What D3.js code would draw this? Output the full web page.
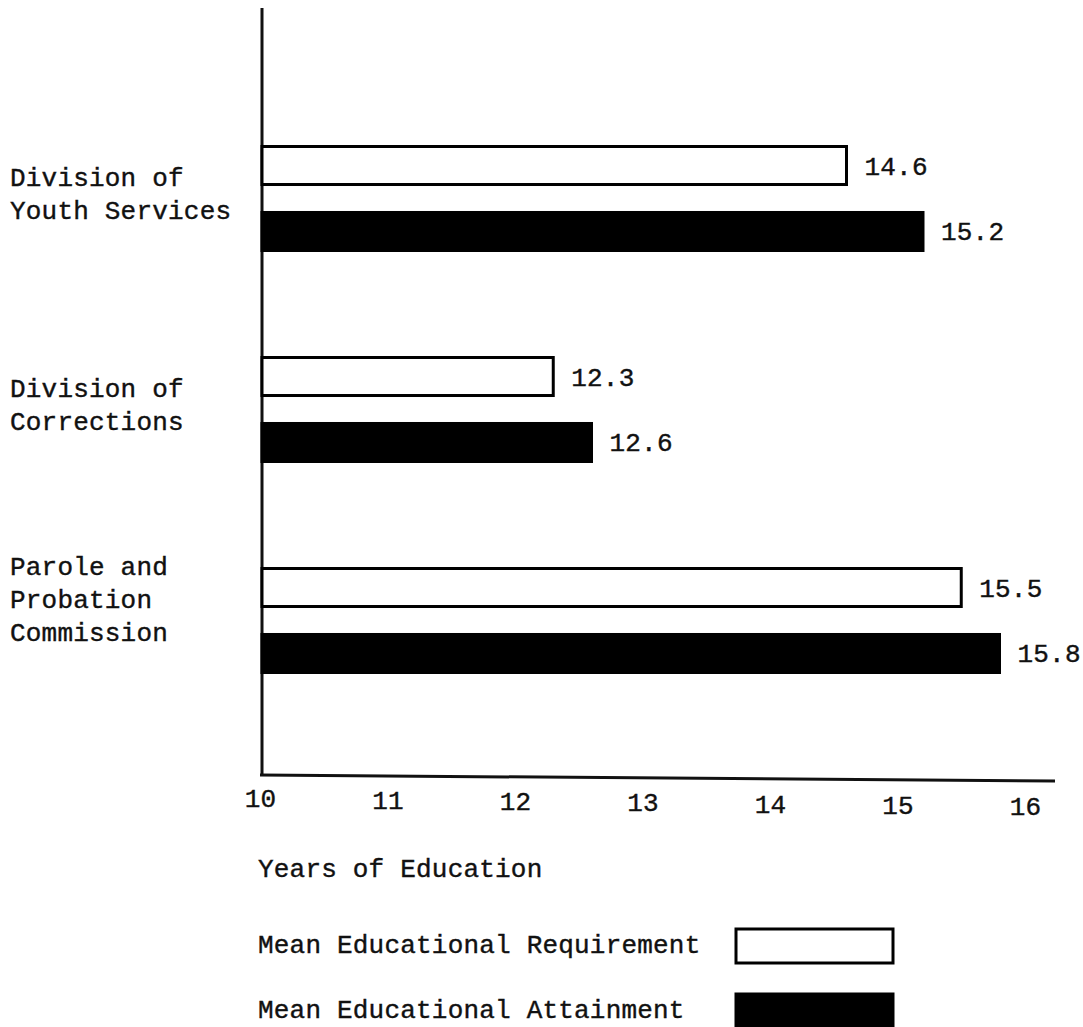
<!DOCTYPE html>
<html>
<head>
<meta charset="utf-8">
<script src="https://cdn.jsdelivr.net/npm/d3@7"></script>
<style>
  body { margin: 0; background: #fff; }
  text { font-family: "Liberation Mono", "DejaVu Sans Mono", monospace; fill: #111; stroke: #111; stroke-width: 0.4px; letter-spacing: 0.2px; }
</style>
</head>
<body>
<div id="chart"></div>
<script>
// data
var agencies = ["Division of Youth Services", "Division of Corrections", "Parole and Probation Commission"];
var agencyLines = [["Division of", "Youth Services"], ["Division of", "Corrections"], ["Parole and", "Probation", "Commission"]];
var seriesNames = ["Mean Educational Requirement", "Mean Educational Attainment"];
var requirement = [14.6, 12.3, 15.5];
var attainment = [15.2, 12.6, 15.8];
var xTicks = [10, 11, 12, 13, 14, 15, 16];

var width = 1083, height = 1027;
var fontSize = "26px";

var svg = d3.select("#chart")
  .append("svg")
  .attr("width", width)
  .attr("height", height);

var x = d3.scaleLinear()
  .domain([10, 16])
  .range([260, 1025]);

var y = d3.scaleBand()
  .domain(agencies)
  .range([93, 726]);

var ySub = d3.scaleBand()
  .domain(seriesNames)
  .range([0, 104])
  .paddingInner(0.424);

var rows = agencies.map(function (a, i) {
  return { agency: a, lines: agencyLines[i], values: [requirement[i], attainment[i]] };
});

// axes lines
svg.append("line")
  .attr("x1", 262).attr("x2", 262)
  .attr("y1", 8).attr("y2", 776)
  .attr("stroke", "#111").attr("stroke-width", 3);

svg.append("line")
  .attr("x1", 260).attr("x2", 1055)
  .attr("y1", 775).attr("y2", 781)
  .attr("stroke", "#111").attr("stroke-width", 3);

var xAxis = svg.append("g")
  .attr("transform", "translate(0,775)")
  .call(d3.axisBottom(x).tickValues(xTicks).tickSize(0).tickPadding(14).tickFormat(d3.format("d")));
xAxis.select(".domain").remove();
xAxis.selectAll("text")
  .attr("font-family", "Liberation Mono, monospace")
  .style("font-size", fontSize)
  .attr("fill", "#111")
  .attr("dy", function (d, i) { return (0.71 + i * 0.05) + "em"; });

// category labels
var groups = svg.selectAll(".agency")
  .data(rows)
  .enter()
  .append("g")
  .attr("class", "agency")
  .attr("transform", function (d) { return "translate(0," + (y(d.agency) + y.bandwidth() / 2) + ")"; });

groups.each(function (d) {
  var g = d3.select(this);
  var n = d.lines.length;
  d.lines.forEach(function (line, j) {
    g.append("text")
      .attr("x", 10)
      .attr("y", 20 - 33 * (n - 1 - j))
      .style("font-size", fontSize)
      .text(line);
  });
});

// bars
groups.selectAll("rect")
  .data(function (d) { return d.values.map(function (v, k) { return { name: seriesNames[k], value: v }; }); })
  .enter()
  .append("rect")
  .attr("x", x(10) + 2)
  .attr("y", function (d) { return ySub(d.name) - 52; })
  .attr("width", function (d) { return x(d.value) - x(10) - 2; })
  .attr("height", ySub.bandwidth())
  .attr("fill", function (d, k) { return k === 0 ? "#fff" : "#000"; })
  .attr("stroke", "#000")
  .attr("stroke-width", 3);

groups.selectAll(".val")
  .data(function (d) { return d.values.map(function (v, k) { return { name: seriesNames[k], value: v }; }); })
  .enter()
  .append("text")
  .attr("class", "val")
  .attr("x", function (d) { return x(d.value) + 18; })
  .attr("y", function (d) { return ySub(d.name) - 52 + ySub.bandwidth() / 2 + 9; })
  .style("font-size", fontSize)
  .text(function (d) { return d3.format(".1f")(d.value); });

// axis title
svg.append("text")
  .attr("x", 258)
  .attr("y", 877)
  .style("font-size", fontSize)
  .text("Years of Education");

// legend
var legend = svg.selectAll(".legend")
  .data(seriesNames)
  .enter()
  .append("g")
  .attr("class", "legend")
  .attr("transform", function (d, i) { return "translate(0," + (945 + i * 65) + ")"; });

legend.append("text")
  .attr("x", 258)
  .attr("y", 8)
  .style("font-size", fontSize)
  .text(function (d) { return d; });

legend.append("rect")
  .attr("x", 736)
  .attr("y", -16)
  .attr("width", 157)
  .attr("height", 34)
  .attr("fill", function (d, i) { return i === 0 ? "#fff" : "#000"; })
  .attr("stroke", "#000")
  .attr("stroke-width", 3);
</script>
</body>
</html>
